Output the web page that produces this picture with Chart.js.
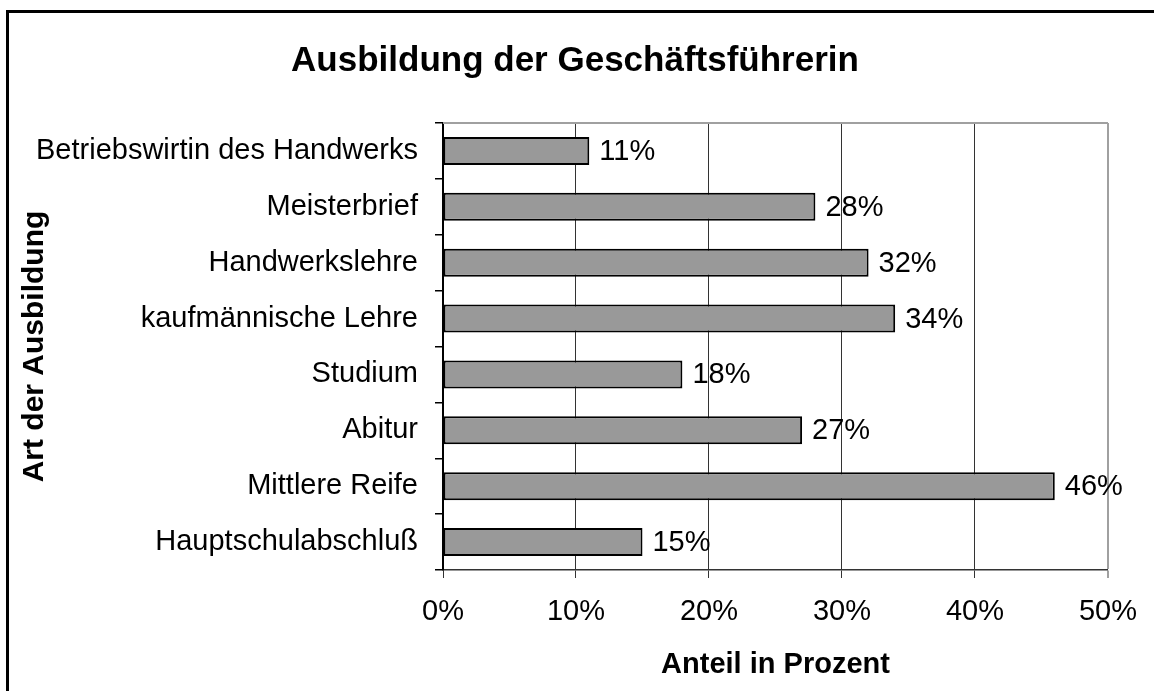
<!DOCTYPE html>
<html>
<head>
<meta charset="utf-8">
<script src="https://cdn.jsdelivr.net/npm/chart.js@4.4.1/dist/chart.umd.min.js"></script>
<style>
  body { margin: 0; background: #fff; overflow: hidden; }
  #wrap { position: relative; width: 1154px; height: 691px; }
  #frame { position: absolute; left: 6px; top: 10px; width: 1300px; height: 900px; border: 3px solid #000; pointer-events: none; }
</style>
</head>
<body>
<div id="wrap">
  <canvas id="chart" width="1154" height="691"></canvas>
  <div id="frame"></div>
</div>
<script>
const categories = ["Betriebswirtin des Handwerks", "Meisterbrief", "Handwerkslehre", "kaufmännische Lehre", "Studium", "Abitur", "Mittlere Reife", "Hauptschulabschluß"]
const shares = [11, 28, 32, 34, 18, 27, 46, 15]
const xTicks = [0, 10, 20, 30, 40, 50]
const chartTitle = "Ausbildung der Geschäftsführerin"
const xTitle = "Anteil in Prozent"
const yTitle = "Art der Ausbildung"

const fontFamily = "'Liberation Sans', Arial, sans-serif"

// value labels right of each bar
const barLabels = {
  id: "barLabels",
  afterDatasetsDraw(chart) {
    const ctx = chart.ctx
    const meta = chart.getDatasetMeta(0)
    ctx.save()
    ctx.font = "29px " + fontFamily
    ctx.fillStyle = "#000"
    ctx.textAlign = "left"
    ctx.textBaseline = "middle"
    meta.data.forEach((bar, i) => {
      ctx.fillText(shares[i] + "%", bar.x + 10, bar.y + 1)
    })
    ctx.restore()
  }
}

// grey top edge of the plot area
const plotTop = {
  id: "plotTop",
  afterLayout(chart) {
    // centre the title on the whole page, not between the paddings
    if (chart.titleBlock) chart.titleBlock.left = 40
  },
  beforeDatasetsDraw(chart) {
    const { ctx, chartArea } = chart
    ctx.save()
    ctx.strokeStyle = "#a0a0a0"
    ctx.lineWidth = 2
    ctx.beginPath()
    ctx.moveTo(chartArea.left, chartArea.top)
    ctx.lineTo(chartArea.right, chartArea.top)
    ctx.stroke()
    ctx.restore()
  }
}

const ctx = document.getElementById("chart").getContext("2d")
Chart.defaults.font.family = fontFamily
Chart.defaults.color = "#000"

new Chart(ctx, {
  type: "bar",
  data: {
    labels: categories,
    datasets: [{
      data: shares,
      backgroundColor: "#999999",
      borderColor: "#000",
      borderWidth: 2,
      borderSkipped: false,
      barPercentage: 0.5,
      categoryPercentage: 1
    }]
  },
  options: {
    indexAxis: "y",
    responsive: false,
    animation: false,
    devicePixelRatio: 1,
    layout: { padding: { left: 18, right: 44, top: 8, bottom: 6 } },
    plugins: {
      legend: { display: false },
      tooltip: { enabled: false },
      title: {
        display: true,
        text: chartTitle,
        color: "#000",
        font: { size: 35, weight: "bold" },
        padding: { top: 32, bottom: 41 }
      }
    },
    scales: {
      x: {
        min: 0,
        max: 50,
        afterBuildTicks(scale) {
          scale.ticks = xTicks.map(v => ({ value: v }))
        },
        afterFit(scale) {
          scale.height = 691 - 6 - 570
        },
        ticks: {
          padding: 17,
          font: { size: 29 },
          color: "#000",
          callback: v => v + "%"
        },
        grid: {
          color: c => c.index === xTicks.length - 1 ? "#a0a0a0" : "#333",
          lineWidth: c => c.index === xTicks.length - 1 ? 2 : 1,
          tickLength: 8,
          drawTicks: true
        },
        border: { color: "#333", width: 1.5 },
        title: {
          display: true,
          text: xTitle,
          color: "#000",
          font: { size: 29, weight: "bold" },
          padding: { top: 4, bottom: 3 }
        }
      },
      y: {
        afterFit(scale) {
          scale.width = 443 - 18
        },
        ticks: {
          padding: 17,
          font: { size: 29 },
          color: "#000"
        },
        grid: {
          offset: true,
          drawOnChartArea: false,
          tickLength: 8,
          color: "#000",
          lineWidth: 1.5
        },
        border: { color: "#000", width: 2 },
        title: {
          display: true,
          text: yTitle,
          color: "#000",
          font: { size: 30, weight: "bold" },
          padding: { top: -1, bottom: 0 }
        }
      }
    }
  },
  plugins: [plotTop, barLabels]
})
</script>
</body>
</html>
